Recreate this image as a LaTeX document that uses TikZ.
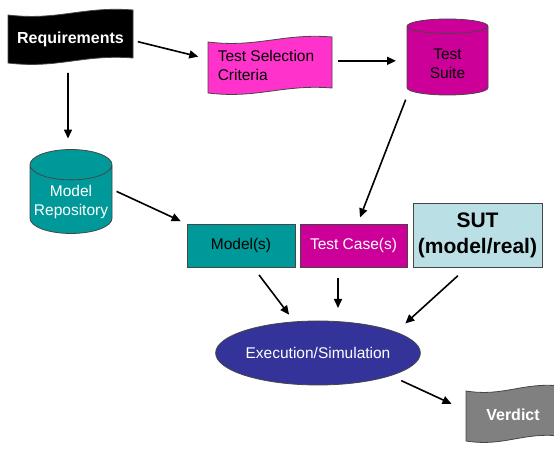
\documentclass[tikz,border=0pt]{standalone}
\usepackage{fontspec}
\setmainfont{Liberation Sans}
\usetikzlibrary{shapes.geometric,arrows.meta,backgrounds,calc}

\definecolor{critpink}{RGB}{255,51,204}
\definecolor{suitemag}{RGB}{204,0,153}
\definecolor{repoteal}{RGB}{0,153,153}
\definecolor{sutblue}{RGB}{186,224,229}
\definecolor{exeblue}{RGB}{51,51,153}
\definecolor{verdgray}{RGB}{128,128,128}
\definecolor{edgegray}{RGB}{70,70,70}

% wavy banner drawn behind a named node
\newcommand{\wavebg}[2]{%
  \path[fill=#2,draw=edgegray,line width=.8pt] let \p1=(#1.north west), \p2=(#1.south east),
    \n1={\x2-\x1}, \n2={\y1-\y2-5pt} in
    (\x1,\y1-5pt) .. controls (\x1+0.4*\n1,\y1-11pt) and (\x1+0.6*\n1,\y1+4pt) .. (\x2,\y1)
    -- (\x2,\y1-\n2) .. controls (\x1+0.6*\n1,\y1+4pt-\n2) and (\x1+0.4*\n1,\y1-11pt-\n2) .. (\x1,\y2) -- cycle;}
% text block moved down inside its node
\newcommand{\lowered}[3][c]{\raisebox{-#2}[\height][\depth]{\begin{tabular}{@{}#1@{}}#3\end{tabular}}}

\begin{document}
\begin{tikzpicture}[x=1pt,y=1pt,
  box/.style={draw=edgegray,line width=.8pt,inner sep=0pt,outer sep=0pt,align=center,font=\fontsize{15.5}{19}\selectfont},
  wavebox/.style={inner sep=0pt,outer sep=0pt,align=center,font=\fontsize{15.5}{19}\selectfont},
  drum/.style={box,cylinder,shape border rotate=90,aspect=.41,anchor=shape center},
  arr/.style={line width=1.6pt,-{Triangle[length=9pt,width=8pt]}}]
\useasboundingbox (0,0) rectangle (554,449);

\node (req) at (70.5,412.5) [wavebox,minimum width=125pt,minimum height=53pt,text=white,font=\fontsize{16}{19}\selectfont\bfseries] {\lowered{3pt}{Requirements}};
\node (tsc) at (270,384) [wavebox,minimum width=124pt,minimum height=56pt] {\lowered[l]{2pt}{Test Selection\\Criteria}\hspace*{8pt}};
\node (suite) at (447.5,392) [drum,fill=suitemag,minimum width=81pt,minimum height=76pt] {\lowered{4pt}{Test\\Suite}};
\node (repo) at (71,257.5) [drum,fill=repoteal,text=white,minimum width=82pt,minimum height=77pt] {\lowered{3pt}{Model\\Repository}};
\node (mod) at (241,203.5) [box,fill=repoteal,minimum width=108pt,minimum height=43pt] {Model(s)};
\node (tcase) at (353.5,203.5) [box,fill=suitemag,text=white,minimum width=107pt,minimum height=43pt] {Test Case(s)};
\node (sut) at (477.5,214) [box,fill=sutblue,minimum width=129pt,minimum height=64pt,font=\fontsize{21}{26}\selectfont\bfseries] {SUT\\(model/real)};
\node (exe) at (318,96) [box,ellipse,fill=exeblue,text=white,minimum width=188pt,minimum height=64pt] {Execution/Simulation};
\node (ver) at (513,35.5) [wavebox,minimum width=94pt,minimum height=55pt,text=white,font=\fontsize{16}{19}\selectfont\bfseries] {\lowered{3pt}{Verdict}};

\begin{scope}[on background layer]
\wavebg{req}{black}
\wavebg{tsc}{critpink}
\wavebg{ver}{verdgray}
\end{scope}

\draw[arr,shorten <=5pt,shorten >=10pt] ([yshift=-4pt]req.east) -- ([yshift=6pt]tsc.west);
\draw[arr,shorten <=6pt,shorten >=11pt] (tsc.east |- suite.west) -- (suite.west);
\draw[arr,shorten <=10pt,shorten >=11pt] ([xshift=-2.5pt]req.south) -- ([xshift=-3pt]repo.north);
\draw[arr,shorten <=5pt,shorten >=7pt] ([yshift=10pt]repo.east) -- (mod.north west);
\draw[arr,shorten <=5pt,shorten >=7pt] ([xshift=-40pt]suite.south) -- ([xshift=4pt]tcase.north);
\draw[arr,shorten <=10pt,shorten >=9pt] ([xshift=12pt]mod.south) -- (exe.127);
\draw[arr,shorten <=11pt,shorten >=13pt] ([xshift=-15.5pt]tcase.south) -- ([xshift=20pt]exe.north);
\draw[arr,shorten <=13pt,shorten >=13pt] ([xshift=-10pt]sut.south) -- (exe.15);
\draw[arr,shorten <=12pt,shorten >=16pt] (exe.south east) -- ([yshift=3pt]ver.west);
\end{tikzpicture}
\end{document}
